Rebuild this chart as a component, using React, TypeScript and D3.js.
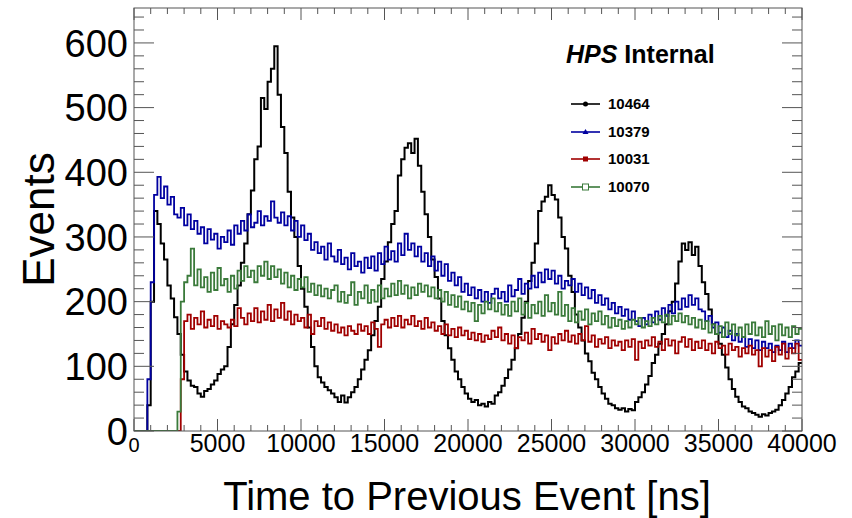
import React from "react";
import * as d3 from "d3";

const binWidth = 200;
const xTickValues = [0, 5000, 10000, 15000, 20000, 25000, 30000, 35000, 40000];
const yTickValues = [0, 100, 200, 300, 400, 500, 600];
const seriesNames = ["10464", "10379", "10031", "10070"];
const seriesColors = ["#000000", "#0000a0", "#a00000", "#3a7a3a"];

const run10464 = [
  0, 0, 0, 0, 40, 200, 340, 320, 290, 265,
  225, 205, 176, 150, 118, 92, 78, 70, 68, 58,
  53, 62, 65, 72, 78, 88, 95, 100, 130, 165,
  195, 225, 260, 290, 335, 372, 420, 440, 515, 498,
  540, 560, 595, 520, 470, 430, 370, 330, 300, 255,
  220, 192, 160, 130, 100, 83, 75, 68, 63, 58,
  52, 45, 55, 44, 52, 60, 68, 80, 95, 110,
  125, 148, 170, 192, 235, 262, 292, 320, 340, 395,
  420, 438, 445, 430, 452, 410, 370, 335, 300, 265,
  238, 205, 170, 148, 128, 110, 92, 80, 68, 58,
  50, 45, 48, 40, 42, 38, 45, 42, 55, 60,
  70, 82, 95, 110, 128, 150, 175, 200, 232, 260,
  290, 340, 355, 362, 380, 365, 358, 330, 300, 282,
  240, 215, 180, 160, 140, 120, 108, 90, 80, 68,
  58, 50, 42, 40, 35, 33, 35, 30, 34, 32,
  45, 52, 60, 72, 85, 105, 118, 135, 150, 165,
  185, 200, 228, 262, 290, 280, 292, 272, 285, 255,
  230, 212, 188, 165, 150, 135, 118, 98, 80, 65,
  53, 45, 38, 35, 30, 28, 25, 22, 26, 24,
  28, 30, 33, 40, 48, 58, 68, 83, 92, 105,
];

const run10379 = [
  0, 0, 0, 0, 80, 230, 365, 393, 360, 378,
  350, 362, 335, 330, 345, 318, 335, 312, 325, 305,
  315, 290, 312, 296, 305, 282, 300, 292, 310, 288,
  318, 305, 325, 310, 335, 315, 322, 340, 318, 332,
  325, 355, 330, 322, 338, 318, 332, 310, 325, 300,
  318, 295, 305, 280, 292, 275, 285, 265, 290, 270,
  262, 280, 258, 268, 250, 275, 255, 262, 245, 268,
  252, 270, 248, 275, 258, 285, 265, 278, 262, 290,
  272, 305, 280, 290, 270, 285, 262, 275, 255, 270,
  248, 262, 240, 258, 232, 245, 225, 238, 215, 228,
  210, 222, 205, 218, 200, 215, 198, 212, 220, 205,
  215, 200, 225, 208, 218, 235, 212, 228, 220, 240,
  222, 245, 230, 250, 235, 248, 228, 240, 220, 232,
  225, 235, 215, 228, 210, 222, 205, 218, 198, 210,
  195, 205, 188, 198, 182, 192, 178, 188, 172, 185,
  170, 162, 175, 165, 180, 168, 185, 172, 190, 178,
  195, 182, 200, 188, 205, 192, 210, 195, 205, 188,
  185, 170, 178, 160, 168, 152, 160, 145, 155, 140,
  150, 138, 145, 130, 142, 128, 140, 125, 138, 128,
  135, 122, 132, 125, 138, 122, 135, 128, 140, 132,
];

const run10031 = [
  0, 0, 0, 0, 0, 0, 0, 0, 0, 0,
  0, 0, 0, 0, 80, 170, 180, 158, 175, 165,
  185, 160, 172, 162, 178, 158, 170, 165, 160, 172,
  162, 190, 175, 165, 182, 170, 190, 168, 185, 172,
  195, 170, 188, 175, 198, 172, 185, 165, 180, 170,
  175, 160, 180, 150, 170, 162, 175, 158, 168, 155,
  165, 152, 160, 148, 162, 155, 150, 165, 155, 162,
  150, 168, 158, 130, 165, 172, 160, 175, 162, 178,
  160, 172, 165, 178, 162, 170, 158, 175, 160, 168,
  155, 162, 150, 165, 148, 158, 145, 160, 148, 155,
  142, 152, 140, 150, 138, 148, 142, 155, 145, 160,
  140, 150, 135, 148, 128, 145, 140, 152, 135, 158,
  142, 150, 138, 148, 125, 145, 135, 150, 140, 155,
  138, 148, 135, 150, 140, 162, 138, 148, 130, 142,
  135, 145, 128, 140, 132, 138, 125, 140, 130, 142,
  110, 138, 128, 140, 132, 145, 130, 138, 125, 142,
  132, 140, 120, 138, 145, 130, 142, 125, 138, 128,
  140, 125, 135, 120, 138, 128, 132, 118, 135, 125,
  130, 115, 128, 120, 132, 118, 125, 100, 128, 115,
  125, 108, 130, 118, 135, 112, 128, 120, 135, 110,
];

const run10070 = [
  0, 0, 0, 0, 0, 0, 0, 0, 0, 0,
  0, 0, 0, 30, 200, 230, 240, 282, 225, 250,
  222, 238, 215, 245, 218, 252, 225, 235, 215, 240,
  220, 248, 232, 255, 238, 248, 230, 255, 240, 262,
  235, 255, 238, 250, 228, 245, 222, 240, 218, 235,
  222, 238, 215, 228, 210, 225, 208, 220, 205, 218,
  225, 200, 215, 198, 210, 230, 195, 215, 205, 225,
  198, 218, 200, 225, 205, 220, 208, 228, 210, 232,
  212, 225, 205, 222, 210, 228, 215, 225, 208, 222,
  205, 218, 200, 215, 195, 210, 192, 208, 188, 200,
  185, 198, 170, 195, 182, 200, 188, 205, 185, 198,
  180, 195, 178, 200, 185, 205, 180, 198, 175, 195,
  182, 200, 178, 210, 185, 198, 180, 215, 178, 195,
  170, 190, 168, 185, 172, 188, 165, 182, 170, 185,
  165, 178, 160, 175, 162, 172, 158, 170, 160, 172,
  165, 175, 160, 170, 162, 175, 165, 178, 168, 180,
  165, 178, 170, 182, 168, 178, 165, 175, 160, 172,
  158, 170, 152, 165, 150, 162, 145, 168, 150, 165,
  148, 160, 145, 165, 150, 168, 148, 160, 145, 170,
  150, 162, 140, 165, 148, 160, 145, 162, 150, 158,
];

const seriesValues = [run10464, run10379, run10031, run10070];
const seriesWidths = [2, 1.8, 1.8, 1.8];

const W = 852;
const H = 518;
const FONT = "'Liberation Sans', Arial, Helvetica, sans-serif";

export default function App() {
  const left = 134, right = 802, top = 8, bottom = 431;
  const x = d3.scaleLinear().domain([0, 40000]).range([left, right]);
  const y = d3.scaleLinear().domain([0, 654]).range([bottom, top]);

  const line = d3
    .line<[number, number]>()
    .x((d) => x(d[0]))
    .y((d) => y(d[1]))
    .curve(d3.curveStepAfter);

  const pathFor = (vals: number[]) => {
    const pts: [number, number][] = vals.map((v, i) => [i * binWidth, v]);
    pts.push([vals.length * binWidth, vals[vals.length - 1]]);
    return line(pts) || "";
  };

  const xMinor = d3.range(0, 40001, 1000);
  const yMinor = d3.range(0, 654, 20);

  const tickColor = "#555";
  const legendRows = [104, 132, 159, 187];

  const marker = (i: number, cx: number, cy: number) => {
    const c = seriesColors[i];
    if (i === 0) return <circle cx={cx} cy={cy} r={2.5} fill={c} />;
    if (i === 1)
      return (
        <path
          d={`M${cx},${cy - 3}L${cx + 3},${cy + 2}L${cx - 3},${cy + 2}Z`}
          fill={c}
        />
      );
    if (i === 2)
      return <rect x={cx - 2.5} y={cy - 2.5} width={5} height={5} fill={c} />;
    return (
      <rect x={cx - 3} y={cy - 3} width={6} height={6} fill="#fff" stroke={c} strokeWidth={1} />
    );
  };

  return (
    <svg
      width={W}
      height={H}
      style={{ position: "absolute", left: 0, top: 0, background: "#fff" }}
      fontFamily={FONT}
    >
      <rect x={0} y={0} width={W} height={H} fill="#fff" />
      <defs>
        <clipPath id="frameClip">
          <rect x={left} y={top} width={right - left} height={bottom - top} />
        </clipPath>
      </defs>

      {/* data */}
      <g clipPath="url(#frameClip)" fill="none">
        {seriesValues.map((vals, i) => (
          <path
            key={seriesNames[i]}
            d={pathFor(vals)}
            stroke={seriesColors[i]}
            strokeWidth={seriesWidths[i]}
            strokeLinejoin="miter"
          />
        ))}
      </g>

      {/* frame */}
      <rect
        x={left}
        y={top}
        width={right - left}
        height={bottom - top}
        fill="none"
        stroke={tickColor}
        strokeWidth={1}
      />

      {/* x ticks */}
      {xMinor.map((v) => {
        const major = v % 5000 === 0;
        const len = major ? 12 : 6;
        const px = x(v);
        return (
          <g key={"xt" + v} stroke={tickColor} strokeWidth={1}>
            <line x1={px} x2={px} y1={bottom} y2={bottom - len} />
            <line x1={px} x2={px} y1={top} y2={top + len} />
          </g>
        );
      })}
      {/* y ticks */}
      {yMinor.map((v) => {
        const major = v % 100 === 0;
        const len = major ? 20 : 10;
        const py = y(v);
        return (
          <g key={"yt" + v} stroke={tickColor} strokeWidth={1}>
            <line x1={left} x2={left + len} y1={py} y2={py} />
            <line x1={right} x2={right - len} y1={py} y2={py} />
          </g>
        );
      })}

      {/* x tick labels */}
      {xTickValues.map((v) => (
        <text
          key={"xl" + v}
          x={x(v)}
          y={452}
          fontSize={v === 0 ? 20 : 25}
          textAnchor="middle"
          fill="#000"
        >
          {v}
        </text>
      ))}
      {/* y tick labels */}
      {yTickValues.map((v) => (
        <text
          key={"yl" + v}
          x={128}
          y={y(v)}
          dy="0.36em"
          fontSize={38}
          textAnchor="end"
          fill="#000"
        >
          {v}
        </text>
      ))}

      {/* axis titles */}
      <text x={467} y={510} fontSize={40} textAnchor="middle" fill="#000">
        Time to Previous Event [ns]
      </text>
      <text
        transform={`translate(54,${(top + bottom) / 2}) rotate(-90)`}
        fontSize={44}
        textAnchor="middle"
        fill="#000"
      >
        Events
      </text>

      {/* HPS label */}
      <text x={566} y={63} fontSize={25} fontWeight="bold" fill="#000">
        <tspan fontStyle="italic">HPS</tspan>
        <tspan> Internal</tspan>
      </text>

      {/* legend */}
      {seriesNames.map((name, i) => (
        <g key={"lg" + name}>
          <line
            x1={571}
            x2={600}
            y1={legendRows[i]}
            y2={legendRows[i]}
            stroke={seriesColors[i]}
            strokeWidth={1.6}
          />
          {marker(i, 585.5, legendRows[i])}
          <text
            x={608}
            y={legendRows[i]}
            dy="0.36em"
            fontSize={15}
            fontWeight="bold"
            fill="#000"
          >
            {name}
          </text>
        </g>
      ))}
    </svg>
  );
}
